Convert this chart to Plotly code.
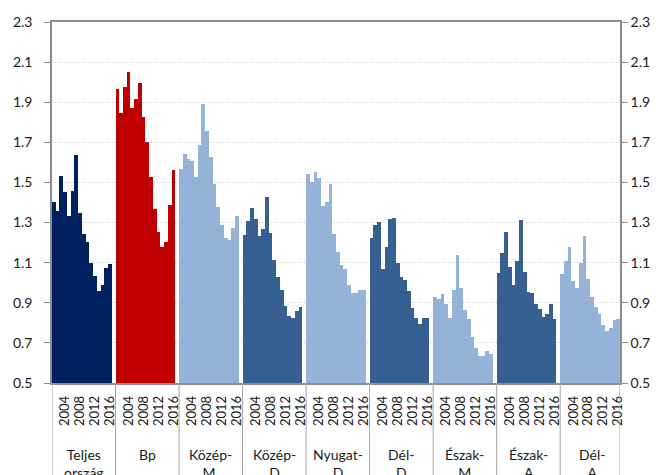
import plotly.graph_objects as go

groups = ["Teljes<br>ország", "Bp", "Közép-<br>M.", "Közép-<br>D", "Nyugat-<br>D",
          "Dél-<br>D", "Észak-<br>M", "Észak-<br>A", "Dél-<br>A"]
years = list(range(2001, 2017))
tick_years = [2004, 2008, 2012, 2016]

teljes = [1.405, 1.36, 1.53, 1.45, 1.335, 1.455, 1.635, 1.35, 1.245, 1.205, 1.10, 1.035, 0.96, 0.99, 1.075, 1.095]
bp = [1.964, 1.845, 1.974, 2.049, 1.870, 1.915, 1.994, 1.826, 1.702, 1.528, 1.366, 1.252, 1.179, 1.202, 1.386, 1.561]
kozep_m = [1.568, 1.642, 1.617, 1.607, 1.525, 1.687, 1.890, 1.756, 1.627, 1.493, 1.379, 1.290, 1.221, 1.211, 1.275, 1.335]
kozep_d = [1.240, 1.310, 1.374, 1.320, 1.231, 1.270, 1.429, 1.250, 1.112, 1.027, 0.963, 0.883, 0.834, 0.824, 0.859, 0.879]
nyugat_d = [1.540, 1.500, 1.550, 1.520, 1.381, 1.401, 1.490, 1.242, 1.153, 1.088, 1.069, 0.989, 0.950, 0.950, 0.964, 0.964]
del_d = [1.222, 1.287, 1.302, 1.069, 1.178, 1.317, 1.321, 1.098, 1.029, 1.014, 0.959, 0.875, 0.826, 0.796, 0.826, 0.826]
eszak_m = [0.929, 0.919, 0.944, 0.894, 0.824, 0.964, 1.137, 0.973, 0.864, 0.820, 0.730, 0.676, 0.636, 0.636, 0.661, 0.646]
eszak_a = [1.048, 1.147, 1.252, 1.078, 0.988, 1.108, 1.311, 1.053, 0.954, 0.949, 0.894, 0.869, 0.829, 0.844, 0.894, 0.820]
del_a = [1.043, 1.108, 1.177, 1.008, 0.973, 1.098, 1.232, 1.018, 0.929, 0.879, 0.844, 0.789, 0.759, 0.774, 0.814, 0.819]

series = [teljes, bp, kozep_m, kozep_d, nyugat_d, del_d, eszak_m, eszak_a, del_a]
colors = ["#002060", "#C00000", "#95B3D7", "#366092", "#95B3D7",
          "#366092", "#95B3D7", "#366092", "#95B3D7"]

y_ticks = [0.5, 0.7, 0.9, 1.1, 1.3, 1.5, 1.7, 1.9, 2.1, 2.3]

slot = len(years) + 1  # bars per group plus one blank slot
n_slots = len(groups) * slot - 1

fig = go.Figure()
tickvals, ticktext = [], []
for g, (vals, col) in enumerate(zip(series, colors)):
    xs = [g * slot + i for i in range(len(years))]
    fig.add_trace(go.Bar(x=xs, y=vals, marker=dict(color=col, line=dict(width=0)),
                         showlegend=False, hoverinfo="y"))
    for i, yr in enumerate(years):
        if yr in tick_years:
            tickvals.append(g * slot + i)
            ticktext.append(str(yr))

# dummy trace for right axis
fig.add_trace(go.Scatter(x=[None], y=[None], yaxis="y2", showlegend=False))

font_fam = "Lato, 'Liberation Sans', Arial, sans-serif"
txt_col = "#1a1a1a"
axis_col = "#8c8c8c"

# group dividers
for g in range(len(groups) + 1):
    xv = g * slot - 0.5 if g < len(groups) else n_slots - 0.5
    fig.add_shape(type="line", xref="x", yref="paper", x0=xv, x1=xv, y0=0, y1=-0.27,
                  line=dict(color="#a6a6a6", width=1))

# group names
for g, name in enumerate(groups):
    fig.add_annotation(x=g * slot + (slot - 1) / 2, xref="x", y=-0.168, yref="paper",
                       text=name, showarrow=False, yanchor="top", xanchor="center",
                       font=dict(size=14, color=txt_col, family=font_fam))

fig.update_layout(
    width=661, height=475,
    margin=dict(l=52, r=41, t=22, b=92),
    paper_bgcolor="white", plot_bgcolor="white",
    bargap=0,
    font=dict(family=font_fam, size=14, color=txt_col),
    xaxis=dict(range=[-0.5, n_slots - 0.5], tickvals=tickvals, ticktext=ticktext,
               tickangle=-90, ticks="", showline=True, linecolor=axis_col, linewidth=1.5,
               mirror=True, showgrid=False, zeroline=False, fixedrange=True,
               tickfont=dict(size=13, color=txt_col), ticklabelstandoff=6),
    yaxis=dict(range=[0.5, 2.3], tickvals=y_ticks, ticktext=[f"{v:.1f}" for v in y_ticks],
               ticks="outside", ticklen=6, tickcolor=axis_col, showline=True,
               linecolor=axis_col, linewidth=1.5, showgrid=True, gridcolor="#cccccc",
               griddash="1px,2px", gridwidth=1, zeroline=False,
               tickfont=dict(size=14, color=txt_col), ticklabelstandoff=9),
    yaxis2=dict(range=[0.5, 2.3], overlaying="y", side="right", tickvals=y_ticks,
                ticktext=[f"{v:.1f}" for v in y_ticks], ticks="outside", ticklen=6,
                tickcolor=axis_col, showline=True, linecolor=axis_col, linewidth=1.5,
                showgrid=False, zeroline=False, tickfont=dict(size=14, color=txt_col)),
)

fig.write_html("out.html", config={"displayModeBar": False},
               post_script="document.body.style.margin='0';document.body.style.overflow='hidden';")
